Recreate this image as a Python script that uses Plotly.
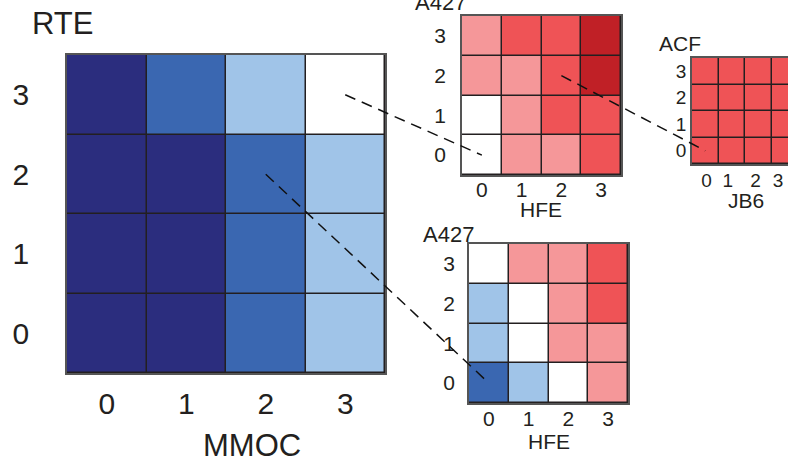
import plotly.graph_objects as go

W, H = 788, 457

# ---- data (levels: -3 navy, -2 mid blue, -1 light blue, 0 white, 1 pink, 2 red, 3 dark red)
ticks = [0, 1, 2, 3]
tick_labels = ["0", "1", "2", "3"]
acf_tick_pos = [0.05, 0.85, 1.9, 2.75]

# rows listed bottom (y=0) to top (y=3)
main_z = [
    [-3, -3, -2, -1],
    [-3, -3, -2, -1],
    [-3, -3, -2, -1],
    [-3, -2, -1, 0],
]
top_z = [
    [0, 1, 1, 2],
    [0, 1, 2, 2],
    [1, 1, 2, 3],
    [1, 2, 2, 3],
]
acf_z = [
    [2, 2, 2, 2],
    [2, 2, 2, 2],
    [2, 2, 2, 2],
    [2, 2, 2, 2],
]
bot_z = [
    [-2, -1, 0, 1],
    [-1, 0, 1, 1],
    [-1, 0, 1, 2],
    [0, 1, 1, 2],
]

level_colors = ["#2b2d7e", "#3a67b1", "#a0c4e8", "#ffffff", "#f59799", "#ef5356", "#c02026"]
n = len(level_colors)
colorscale = []
for i, c in enumerate(level_colors):
    colorscale.append([i / n, c])
    colorscale.append([(i + 1) / n, c])

TXT = "#231f20"
FONT = "Arial, Liberation Sans, sans-serif"

# pixel boxes for the panels: (left, top, right, bottom)
panels = {
    "main": dict(box=(67, 55, 385, 373), z=main_z, xr=[-0.5, 3.5], xt=ticks),
    "top": dict(box=(462, 16, 621, 175), z=top_z, xr=[-0.5, 3.5], xt=ticks),
    "acf": dict(box=(692, 58, 788, 164), z=acf_z, xr=[-0.5, -0.5 + 96 / 26.5], xt=acf_tick_pos),
    "bot": dict(box=(469, 244, 628, 403), z=bot_z, xr=[-0.5, 3.5], xt=ticks),
}

fig = go.Figure()
axis_ids = {"main": "", "top": "2", "acf": "3", "bot": "4"}
style = {
    "main": dict(fs=30, xs=3, ys=30, gap=1.5),
    "top": dict(fs=21, xs=-5, ys=10, gap=1.5),
    "acf": dict(fs=19, xs=-2, ys=0, gap=1.5),
    "bot": dict(fs=21, xs=-4, ys=8, gap=1.5),
}

for key, p in panels.items():
    aid = axis_ids[key]
    l, t, r, b = p["box"]
    st = style[key]
    fig.add_trace(go.Heatmap(
        z=p["z"], x=ticks, y=ticks, colorscale=colorscale, zmin=-3.5, zmax=3.5,
        showscale=False, xgap=st["gap"], ygap=st["gap"], hoverinfo="skip",
        xaxis="x" + aid, yaxis="y" + aid,
    ))
    common = dict(showgrid=False, zeroline=False, showline=True,
                  linecolor="#555555", linewidth=1.5, ticks="",
                  tickfont=dict(size=st["fs"], color=TXT, family=FONT),
                  ticktext=tick_labels, fixedrange=True)
    fig.update_layout(**{
        "xaxis" + aid: dict(domain=[l / W, min(r / W, 1)], range=p["xr"], tickvals=p["xt"],
                            anchor="y" + aid, ticklabelstandoff=st["xs"], mirror=True, **common),
        "yaxis" + aid: dict(domain=[1 - b / H, 1 - t / H], range=[-0.5, 3.5], tickvals=ticks,
                            anchor="x" + aid, ticklabelstandoff=st["ys"],
                            mirror=(key != "acf"), **common),
    })


def to_paper(key, cx, cy):
    p = panels[key]
    l, t, r, b = p["box"]
    x0, x1 = p["xr"]
    px = l + (cx - x0) / (x1 - x0) * (r - l)
    py = b - (cy + 0.5) / 4.0 * (b - t)
    return px / W, 1 - py / H


connectors = [(("main", 3, 3), ("top", 0, 0)),
              (("top", 2, 2), ("acf", 0, 0)),
              (("main", 2, 2), ("bot", 0, 0))]
for a, bb in connectors:
    xa, ya = to_paper(*a)
    xb, yb = to_paper(*bb)
    fig.add_shape(type="line", xref="paper", yref="paper", x0=xa, y0=ya, x1=xb, y1=yb,
                  line=dict(color="#111111", width=1.5, dash="11px,7px"))

labels = [
    ("RTE", 62, 23, 31),
    ("MMOC", 252, 445, 31),
    ("A427", 440, 2, 22),
    ("HFE", 541, 210, 21),
    ("ACF", 680, 44, 21),
    ("JB6", 746, 200, 21),
    ("A427", 448, 234, 22),
    ("HFE", 549, 441, 21),
]
for txt, x, y, fs in labels:
    fig.add_annotation(text=txt, x=x / W, y=1 - y / H, xref="paper", yref="paper",
                       xanchor="center", yanchor="middle", showarrow=False,
                       font=dict(size=fs, color=TXT, family=FONT))

fig.update_layout(width=W, height=H, margin=dict(l=0, r=0, t=0, b=0),
                  paper_bgcolor="white", plot_bgcolor="#231f20", showlegend=False)

fig.write_html("out.html", config={"displayModeBar": False},
               post_script="document.body.style.margin='0';document.body.style.overflow='hidden';")
